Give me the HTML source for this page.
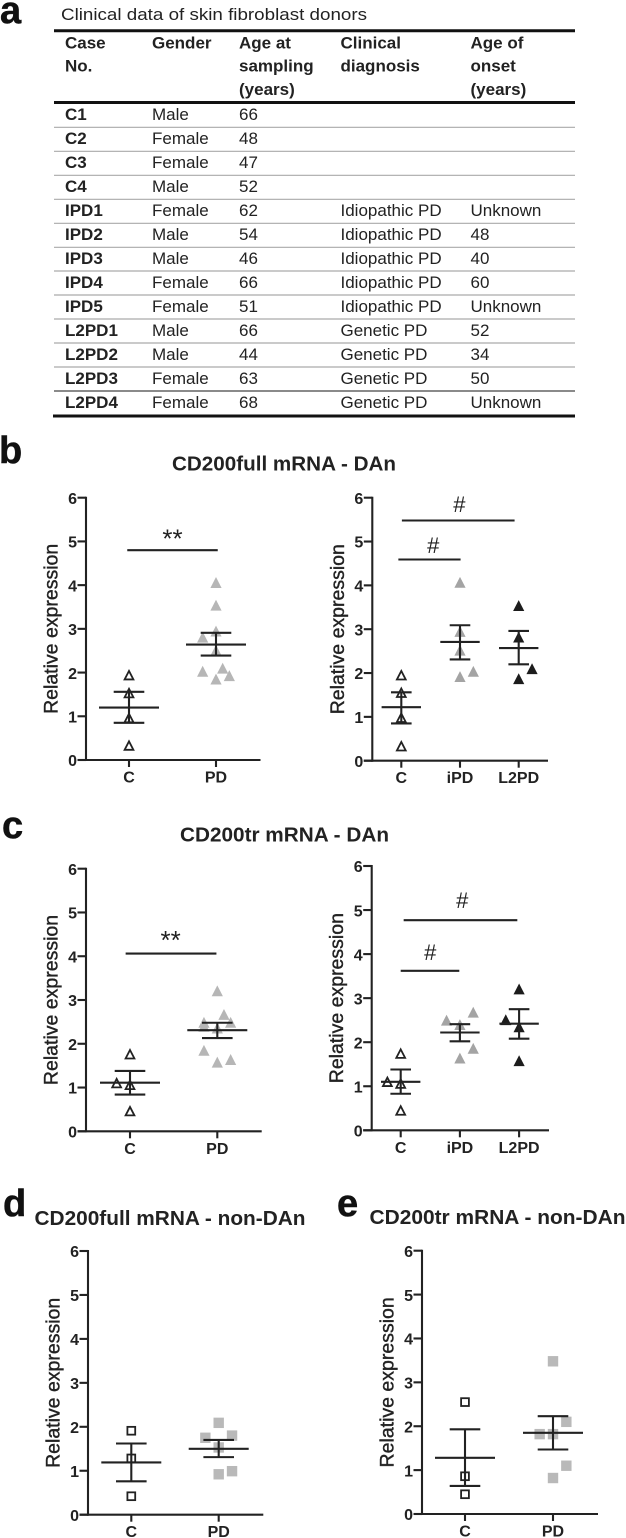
<!DOCTYPE html>
<html lang="en">
<head>
<meta charset="utf-8">
<title>Clinical data and CD200 mRNA expression</title>
<style>
html,body{margin:0;padding:0;background:#fff;width:626px;height:1538px;overflow:hidden}
svg{display:block;filter:blur(0.3px)}
text{font-family:"Liberation Sans",Arial,sans-serif;fill:#222}
.letter{font-size:38px;font-weight:700;fill:#111;stroke:#111;stroke-width:.5px}
.title{font-size:20px;font-weight:700}
.tbl text{font-size:17px}
.tbl .h,.tbl .b{font-weight:700}
</style>
</head>
<body>
<svg id="fig" xmlns="http://www.w3.org/2000/svg" width="626" height="1538" viewBox="0 0 626 1538">
<rect width="626" height="1538" fill="#fff"/>

<text class="letter" x="0" y="23">a</text>
<text class="letter" x="-1" y="463">b</text>
<text class="letter" x="2" y="838">c</text>
<text class="letter" x="3" y="1216">d</text>
<text class="letter" x="337" y="1216">e</text>

<text class="title" x="172" y="470.5" textLength="224" lengthAdjust="spacingAndGlyphs">CD200full mRNA - DAn</text>
<text class="title" x="180" y="841.5" textLength="209" lengthAdjust="spacingAndGlyphs">CD200tr mRNA - DAn</text>
<text class="title" x="34.5" y="1225" textLength="271" lengthAdjust="spacingAndGlyphs">CD200full mRNA - non-DAn</text>
<text class="title" x="369.5" y="1224" textLength="256" lengthAdjust="spacingAndGlyphs">CD200tr mRNA - non-DAn</text>

<g class="tbl">
<text x="61" y="20" textLength="306" lengthAdjust="spacingAndGlyphs">Clinical data of skin fibroblast donors</text>
<line x1="54" x2="575" y1="30.8" y2="30.8" stroke="#111" stroke-width="3"/>
<line x1="54" x2="575" y1="102.5" y2="102.5" stroke="#111" stroke-width="3"/>
<g stroke="#aaa" stroke-width="1.2">
<line x1="54" x2="575" y1="127.3" y2="127.3"/><line x1="54" x2="575" y1="151.3" y2="151.3"/><line x1="54" x2="575" y1="175.3" y2="175.3"/><line x1="54" x2="575" y1="199.3" y2="199.3"/><line x1="54" x2="575" y1="223.3" y2="223.3"/><line x1="54" x2="575" y1="247.3" y2="247.3"/><line x1="54" x2="575" y1="271" y2="271"/><line x1="54" x2="575" y1="295" y2="295"/><line x1="54" x2="575" y1="319" y2="319"/><line x1="54" x2="575" y1="343" y2="343"/><line x1="54" x2="575" y1="367" y2="367"/>
</g>
<line x1="54" x2="575" y1="391" y2="391" stroke="#444" stroke-width="1.3"/>
<line x1="53" x2="575" y1="416" y2="416" stroke="#111" stroke-width="3"/>
<g>
<text class="h" x="65" y="48.5">Case</text><text class="h" x="65" y="71.5">No.</text>
<text class="h" x="152" y="48.5">Gender</text>
<text class="h" x="239" y="48.5">Age at</text><text class="h" x="239" y="71.5">sampling</text><text class="h" x="239" y="95">(years)</text>
<text class="h" x="340.5" y="48.5">Clinical</text><text class="h" x="340.5" y="71.5">diagnosis</text>
<text class="h" x="470.5" y="48.5">Age of</text><text class="h" x="470.5" y="71.5">onset</text><text class="h" x="470.5" y="95">(years)</text>
</g>
<g>
<text class="b" x="65" y="120">C1</text><text x="152" y="120">Male</text><text x="239" y="120">66</text>
<text class="b" x="65" y="144">C2</text><text x="152" y="144">Female</text><text x="239" y="144">48</text>
<text class="b" x="65" y="168">C3</text><text x="152" y="168">Female</text><text x="239" y="168">47</text>
<text class="b" x="65" y="192">C4</text><text x="152" y="192">Male</text><text x="239" y="192">52</text>
<text class="b" x="65" y="216">IPD1</text><text x="152" y="216">Female</text><text x="239" y="216">62</text><text x="340.5" y="216">Idiopathic PD</text><text x="470.5" y="216">Unknown</text>
<text class="b" x="65" y="240">IPD2</text><text x="152" y="240">Male</text><text x="239" y="240">54</text><text x="340.5" y="240">Idiopathic PD</text><text x="470.5" y="240">48</text>
<text class="b" x="65" y="264">IPD3</text><text x="152" y="264">Male</text><text x="239" y="264">46</text><text x="340.5" y="264">Idiopathic PD</text><text x="470.5" y="264">40</text>
<text class="b" x="65" y="288">IPD4</text><text x="152" y="288">Female</text><text x="239" y="288">66</text><text x="340.5" y="288">Idiopathic PD</text><text x="470.5" y="288">60</text>
<text class="b" x="65" y="312">IPD5</text><text x="152" y="312">Female</text><text x="239" y="312">51</text><text x="340.5" y="312">Idiopathic PD</text><text x="470.5" y="312">Unknown</text>
<text class="b" x="65" y="336">L2PD1</text><text x="152" y="336">Male</text><text x="239" y="336">66</text><text x="340.5" y="336">Genetic PD</text><text x="470.5" y="336">52</text>
<text class="b" x="65" y="360">L2PD2</text><text x="152" y="360">Male</text><text x="239" y="360">44</text><text x="340.5" y="360">Genetic PD</text><text x="470.5" y="360">34</text>
<text class="b" x="65" y="384">L2PD3</text><text x="152" y="384">Female</text><text x="239" y="384">63</text><text x="340.5" y="384">Genetic PD</text><text x="470.5" y="384">50</text>
<text class="b" x="65" y="408">L2PD4</text><text x="152" y="408">Female</text><text x="239" y="408">68</text><text x="340.5" y="408">Genetic PD</text><text x="470.5" y="408">Unknown</text>
</g>
</g>
</svg>
<script>
const yTickLabels = [0, 1, 2, 3, 4, 5, 6];
const yAxisTitle = 'Relative expression';

// Panel b, left
const b1Categories = ['C', 'PD'];
const b1ControlValues = [1.93, 1.52, 0.95, 0.32];
const b1ControlJitter = [0, 0, 0, 0];
const b1PdValues = [4.05, 3.53, 2.94, 2.8, 2.5, 2.09, 2.02, 1.92, 1.84];
const b1PdJitter = [0, 0, 0, -2, 0, 1, -2, 2, 0];
const b1Means = [1.2, 2.64];
const b1Upper = [1.56, 2.91];
const b1Lower = [0.85, 2.39];
const b1SigFrom = [-0.02];
const b1SigTo = [1.02];
const b1SigLevels = [4.8];
const b1SigLabels = ['**'];
const b1SigLabelPos = [0.5];
const b1SigLabelLevels = [5.2];

// Panel b, right
const b2Categories = ['C', 'iPD', 'L2PD'];
const b2ControlValues = [1.94, 1.54, 0.97, 0.32];
const b2ControlJitter = [0, 0, 0, 0];
const b2IpdValues = [4.06, 2.94, 2.51, 2.03, 1.91];
const b2IpdJitter = [0, 0, 0, 2, 0];
const b2L2pdValues = [3.53, 2.81, 2.09, 1.86];
const b2L2pdJitter = [0, 0, 2, 0];
const b2Means = [1.22, 2.71, 2.57];
const b2Upper = [1.56, 3.09, 2.96];
const b2Lower = [0.85, 2.31, 2.2];
const b2SigFrom = [-0.05, 0.01];
const b2SigTo = [1.01, 1.93];
const b2SigLevels = [4.59, 5.48];
const b2SigLabels = ['#', '#'];
const b2SigLabelPos = [0.545, 0.99];
const b2SigLabelLevels = [4.92, 5.86];

// Panel c, left
const c1Categories = ['C', 'PD'];
const c1ControlValues = [1.75, 1.09, 1.05, 0.45];
const c1ControlJitter = [0, -2, 0, 0];
const c1PdValues = [3.2, 2.66, 2.48, 2.48, 2.39, 2.35, 1.84, 1.63, 1.57];
const c1PdJitter = [0, 1, 2, -2, -2, 0, -2, 2, 0];
const c1Means = [1.11, 2.31];
const c1Upper = [1.38, 2.48];
const c1Lower = [0.84, 2.13];
const c1SigFrom = [-0.05];
const c1SigTo = [0.99];
const c1SigLevels = [4.06];
const c1SigLabels = ['**'];
const c1SigLabelPos = [0.466];
const c1SigLabelLevels = [4.51];

// Panel c, right
const c2Categories = ['C', 'iPD', 'L2PD'];
const c2ControlValues = [1.73, 1.09, 1.05, 0.44];
const c2ControlJitter = [0, -2, 0, 0];
const c2IpdValues = [2.67, 2.49, 2.39, 1.85, 1.63];
const c2IpdJitter = [2, -2, 0, 2, 0];
const c2L2pdValues = [3.2, 2.5, 2.34, 1.57];
const c2L2pdJitter = [0, -2, 0, 0];
const c2Means = [1.1, 2.22, 2.42];
const c2Upper = [1.38, 2.41, 2.75];
const c2Lower = [0.83, 2.02, 2.08];
const c2SigFrom = [0, 0.05];
const c2SigTo = [0.99, 1.97];
const c2SigLevels = [3.62, 4.77];
const c2SigLabels = ['#', '#'];
const c2SigLabelPos = [0.5, 1.04];
const c2SigLabelLevels = [4.05, 5.23];

// Panel d
const dCategories = ['C', 'PD'];
const dControlValues = [1.91, 1.28, 0.42];
const dControlJitter = [0, 0, 0];
const dPdValues = [2.09, 1.8, 1.75, 1.53, 0.99, 0.92];
const dPdJitter = [0, 2, -2, 0, 2, 0];
const dMeans = [1.19, 1.5];
const dUpper = [1.62, 1.7];
const dLower = [0.76, 1.31];

// Panel e
const eCategories = ['C', 'PD'];
const eControlValues = [2.55, 0.86, 0.45];
const eControlJitter = [0, 0, 0];
const ePdValues = [3.48, 2.1, 1.82, 1.82, 1.1, 0.82];
const ePdJitter = [0, 2, -2, 0, 2, 0];
const eMeans = [1.28, 1.85];
const eUpper = [1.93, 2.23];
const eLower = [0.64, 1.47];

const none = [];
const INK = '#222';
const LINE_W = 2.1;
const SVGNS = 'http://www.w3.org/2000/svg';
const fig = document.getElementById('fig');

function make(parent, tag, attrs, txt) {
  const el = document.createElementNS(SVGNS, tag);
  for (const k in attrs) el.setAttribute(k, attrs[k]);
  if (txt !== undefined) el.textContent = txt;
  parent.appendChild(el);
  return el;
}

function drawChart(cfg) {
  const g = make(fig, 'g', {});
  
  
  const yScale = v => cfg.y0 + (cfg.y6 - cfg.y0) * v / 6;
  const xScale = c => cfg.cx0 + c * cfg.step;

  for (let s = 0; s < cfg.series.length; s++) {
    const vals = cfg.series[s];
    const jit = cfg.jitter[s];
    const style = cfg.styles[s];
    for (let i = 0; i < vals.length; i++) {
      const x = xScale(s) + jit[i] * 6.67;
      const y = yScale(vals[i]);
      let m;
      if (cfg.shape === 'tri') {
        const r = style.open ? 4.4 : 5.6;
        m = make(g, 'polygon', {
          points: `${x},${y - r - 0.3} ${x + r},${y + r - 0.6} ${x - r},${y + r - 0.6}`,
          fill: style.open ? 'none' : style.fill,
          stroke: style.open ? INK : 'none',
          'stroke-width': style.open ? 1.8 : 0
        });
      } else {
        const r = style.open ? 3.9 : 5.2;
        m = make(g, 'rect', {
          x: x - r, y: y - r, width: 2 * r, height: 2 * r,
          fill: style.open ? 'none' : style.fill,
          stroke: style.open ? INK : 'none',
          'stroke-width': style.open ? 1.8 : 0
        });
      }
      
      
    }
  }

  for (let c = 0; c < cfg.cats.length; c++) {
    const x = xScale(c);
    const stem = make(g, 'line', { x1: x, x2: x, y1: yScale(cfg.upper[c]), y2: yScale(cfg.lower[c]), stroke: INK, 'stroke-width': LINE_W });
    
    
    const capU = make(g, 'line', { x1: x - cfg.capW, x2: x + cfg.capW, y1: yScale(cfg.upper[c]), y2: yScale(cfg.upper[c]), stroke: INK, 'stroke-width': LINE_W });
    
    
    const capL = make(g, 'line', { x1: x - cfg.capW, x2: x + cfg.capW, y1: yScale(cfg.lower[c]), y2: yScale(cfg.lower[c]), stroke: INK, 'stroke-width': LINE_W });
    
    
    const mean = make(g, 'line', { x1: x - cfg.meanW, x2: x + cfg.meanW, y1: yScale(cfg.means[c]), y2: yScale(cfg.means[c]), stroke: INK, 'stroke-width': LINE_W });
    
    
  }

  const yAxis = make(g, 'line', { x1: cfg.ax, x2: cfg.ax, y1: cfg.y6 - 1, y2: cfg.y0 + 1, stroke: INK, 'stroke-width': LINE_W });
  
  
  const xAxis = make(g, 'line', { x1: cfg.ax - 8.5, x2: cfg.xEnd, y1: cfg.y0, y2: cfg.y0, stroke: INK, 'stroke-width': LINE_W });
  
  

  yTickLabels.forEach(t => {
    const tick = make(g, 'line', { x1: cfg.ax - 8.5, x2: cfg.ax, y1: yScale(t), y2: yScale(t), stroke: INK, 'stroke-width': LINE_W });
    
    
    const lab = make(g, 'text', { x: cfg.ax - 9, y: yScale(t) + 6.2, 'text-anchor': 'end', 'font-size': 16, 'font-weight': 700 }, String(t));
    
    
  });

  cfg.cats.forEach((name, c) => {
    const x = xScale(c);
    const tick = make(g, 'line', { x1: x, x2: x, y1: cfg.y0, y2: cfg.y0 + 7, stroke: INK, 'stroke-width': LINE_W });
    
    
    const lab = make(g, 'text', { x: x, y: cfg.y0 + 22.5, 'text-anchor': 'middle', 'font-size': 16, 'font-weight': 700 }, name);
    
    
  });

  const ymid = (cfg.y0 + cfg.y6) / 2;
  const title = make(g, 'text', {
    x: cfg.ax - 28.5, y: ymid, 'text-anchor': 'middle', 'font-size': 19.5,
    transform: `rotate(-90 ${cfg.ax - 28.5} ${ymid})`, stroke: '#222', 'stroke-width': 0.4
  }, yAxisTitle);
  
  

  (cfg.sigLevels || none).forEach((lv, i) => {
    const bar = make(g, 'line', { x1: xScale(cfg.sigFrom[i]), x2: xScale(cfg.sigTo[i]), y1: yScale(lv), y2: yScale(lv), stroke: INK, 'stroke-width': LINE_W });
    
    
    const isStar = cfg.sigLabels[i] === '**';
    const lab = make(g, 'text', {
      x: xScale(cfg.sigLabelPos[i]),
      y: yScale(cfg.sigLabelLevels[i]) + (isStar ? 15 : 8),
      'text-anchor': 'middle',
      'font-size': isStar ? 26 : 22
    }, cfg.sigLabels[i]);
    
    
  });
}

const openStyle = { open: true };
const greyLight = { fill: '#b6b6b6' };
const greyMid = { fill: '#a4a4a4' };
const blackFill = { fill: '#1c1c1c' };
const greySquare = { fill: '#b9b9b9' };

drawChart({ name: 'chart-cd200full-dan-c-vs-pd', ax: 86, y0: 760, y6: 497.7, xEnd: 260.5, cx0: 129, step: 87, shape: 'tri', capW: 15.3, meanW: 30,
  cats: b1Categories, series: [b1ControlValues, b1PdValues], jitter: [b1ControlJitter, b1PdJitter], styles: [openStyle, greyLight],
  means: b1Means, upper: b1Upper, lower: b1Lower,
  sigFrom: b1SigFrom, sigTo: b1SigTo, sigLevels: b1SigLevels, sigLabels: b1SigLabels, sigLabelPos: b1SigLabelPos, sigLabelLevels: b1SigLabelLevels });

drawChart({ name: 'chart-cd200full-dan-c-ipd-l2pd', ax: 372.3, y0: 760.7, y6: 497.7, xEnd: 548, cx0: 401.3, step: 58.7, shape: 'tri', capW: 10.3, meanW: 19.7,
  cats: b2Categories, series: [b2ControlValues, b2IpdValues, b2L2pdValues], jitter: [b2ControlJitter, b2IpdJitter, b2L2pdJitter], styles: [openStyle, greyMid, blackFill],
  means: b2Means, upper: b2Upper, lower: b2Lower,
  sigFrom: b2SigFrom, sigTo: b2SigTo, sigLevels: b2SigLevels, sigLabels: b2SigLabels, sigLabelPos: b2SigLabelPos, sigLabelLevels: b2SigLabelLevels });

drawChart({ name: 'chart-cd200tr-dan-c-vs-pd', ax: 86, y0: 1131.3, y6: 868.7, xEnd: 261.7, cx0: 130, step: 87.3, shape: 'tri', capW: 15.3, meanW: 30,
  cats: c1Categories, series: [c1ControlValues, c1PdValues], jitter: [c1ControlJitter, c1PdJitter], styles: [openStyle, greyLight],
  means: c1Means, upper: c1Upper, lower: c1Lower,
  sigFrom: c1SigFrom, sigTo: c1SigTo, sigLevels: c1SigLevels, sigLabels: c1SigLabels, sigLabelPos: c1SigLabelPos, sigLabelLevels: c1SigLabelLevels });

drawChart({ name: 'chart-cd200tr-dan-c-ipd-l2pd', ax: 371.7, y0: 1130.3, y6: 866, xEnd: 549, cx0: 400.7, step: 59.2, shape: 'tri', capW: 10.3, meanW: 19.7,
  cats: c2Categories, series: [c2ControlValues, c2IpdValues, c2L2pdValues], jitter: [c2ControlJitter, c2IpdJitter, c2L2pdJitter], styles: [openStyle, greyMid, blackFill],
  means: c2Means, upper: c2Upper, lower: c2Lower,
  sigFrom: c2SigFrom, sigTo: c2SigTo, sigLevels: c2SigLevels, sigLabels: c2SigLabels, sigLabelPos: c2SigLabelPos, sigLabelLevels: c2SigLabelLevels });

drawChart({ name: 'chart-cd200full-non-dan', ax: 88, y0: 1514.7, y6: 1251, xEnd: 263.3, cx0: 131.3, step: 87.4, shape: 'sq', capW: 15.3, meanW: 30,
  cats: dCategories, series: [dControlValues, dPdValues], jitter: [dControlJitter, dPdJitter], styles: [openStyle, greySquare],
  means: dMeans, upper: dUpper, lower: dLower });

drawChart({ name: 'chart-cd200tr-non-dan', ax: 422, y0: 1514, y6: 1250.7, xEnd: 598, cx0: 465, step: 88, shape: 'sq', capW: 15.3, meanW: 30,
  cats: eCategories, series: [eControlValues, ePdValues], jitter: [eControlJitter, ePdJitter], styles: [openStyle, greySquare],
  means: eMeans, upper: eUpper, lower: eLower });
</script>
</body>
</html>
